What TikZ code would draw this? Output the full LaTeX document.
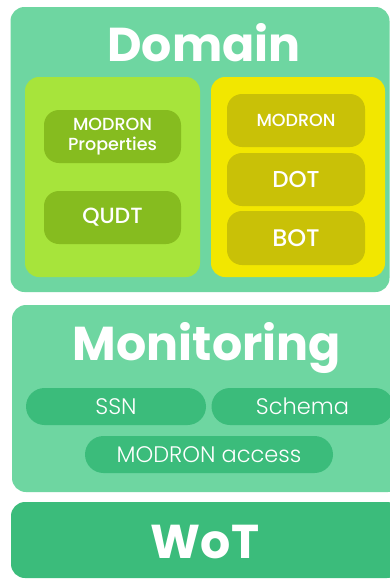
\documentclass[tikz,border=0pt]{standalone}
\usepackage{fontspec}
\setmainfont{Poppins}
\newfontfamily\pmed{Poppins Medium}
\newfontfamily\plight{Poppins Light}
\definecolor{layerbg}{HTML}{6ED6A1}
\definecolor{limebox}{HTML}{A7E43B}
\definecolor{yellowbox}{HTML}{F2E700}
\definecolor{olivebox}{HTML}{C9C107}
\definecolor{grasstile}{HTML}{86BC1F}
\definecolor{pillgreen}{HTML}{3BBC7B}
\tikzset{
  panel/.style={rounded corners=14pt, inner sep=0pt},
  tile/.style={rounded corners=15pt, inner sep=0pt, text=white, align=center},
  pill/.style={rounded corners=18.5pt, inner sep=0pt, fill=pillgreen, text=white,
    minimum height=37pt, font=\plight\fontsize{22.5}{24}\selectfont},
  title/.style={anchor=base, text=white, inner sep=0pt,
    font=\bfseries\fontsize{47.5}{50}\selectfont},
}
\begin{document}
\begin{tikzpicture}[x=1pt,y=-1pt]
\useasboundingbox (0,0) rectangle (390,579);
\fill[white] (0,0) rectangle (390,579);
\clip (0,0) rectangle (390,579);

% Domain layer
\node[panel, fill=layerbg, minimum width=379pt, minimum height=285pt] (domain) at (200,149.5) {};
\node[title] (domaintitle) at (204,61) {Domain};
\node[panel, fill=limebox, minimum width=175pt, minimum height=200pt] (left) at (112.5,177) {};
\node[panel, fill=yellowbox, minimum width=174pt, minimum height=200pt] (right) at (298,177) {};
\node[tile, fill=grasstile, minimum width=137pt, minimum height=53pt,
  font=\pmed\fontsize{17.5}{20}\selectfont] (props) at (112.5,136.5) {MODRON\\Properties};
\node[tile, fill=grasstile, minimum width=137pt, minimum height=53pt,
  font=\pmed\fontsize{22}{24}\selectfont] (qudt) at (112.5,217.5) {QUDT};
\node[tile, fill=olivebox, minimum width=138pt, minimum height=53pt,
  font=\pmed\fontsize{17.5}{20}\selectfont] (modron) at (296,120.5) {MODRON};
\node[tile, fill=olivebox, minimum width=138pt, minimum height=53pt,
  font=\pmed\fontsize{23}{25}\selectfont] (dot) at (296,179.5) {DOT};
\node[tile, fill=olivebox, minimum width=138pt, minimum height=54pt,
  font=\pmed\fontsize{24}{26}\selectfont] (bot) at (296,238) {BOT};

% Monitoring layer
\node[panel, fill=layerbg, minimum width=390pt, minimum height=187pt] (monitoring) at (207,398.5) {};
\node[title] (montitle) at (207,360) {Monitoring};
\node[pill, minimum width=180pt] (ssn) at (116,406.5) {SSN};
\node[pill, minimum width=182pt] (schema) at (302.5,406.5) {Schema};
\node[pill, minimum width=248pt] (access) at (209,454.5) {MODRON access};

% WoT layer
\node[panel, fill=pillgreen, minimum width=390pt, minimum height=76pt] (wot) at (206,540) {};
\node[title] (wottitle) at (205,558) {WoT};
\end{tikzpicture}
\end{document}
